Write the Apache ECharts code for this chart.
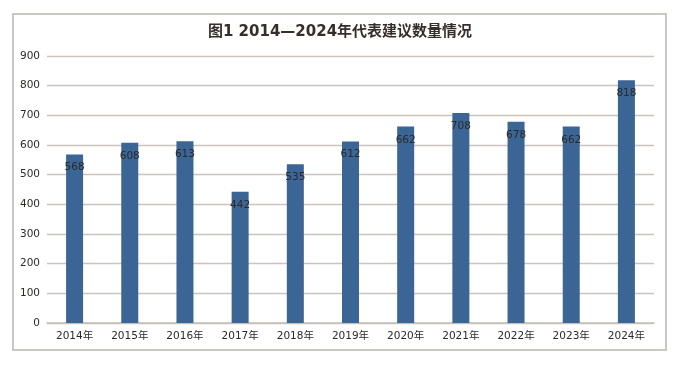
<!DOCTYPE html>
<html><head><meta charset="utf-8">
<script src="https://cdn.jsdelivr.net/npm/echarts@6/dist/echarts.min.js"></script>
<style>html,body{margin:0;padding:0;background:#fff}#c{width:680px;height:371px}</style>
</head><body><div id="c"></div>
<script>
var categories = ['2014年','2015年','2016年','2017年','2018年','2019年','2020年','2021年','2022年','2023年','2024年'];
var values = [568, 608, 613, 442, 535, 612, 662, 708, 678, 662, 818];
var titleText = '图1 2014—2024年代表建议数量情况';
var font = "'DejaVu Sans','Noto Sans CJK SC',sans-serif";
var chart = echarts.init(document.getElementById('c'));
chart.setOption({
  backgroundColor: '#fff',
  animation: false,
  title: {
    text: titleText, left: 'center', top: 20,
    textStyle: {fontFamily: font, fontSize: 15, fontWeight: 'bold', color: '#362e2c'}
  },
  graphic: [{
    type: 'rect', shape: {x: 13, y: 14, width: 653, height: 336},
    style: {fill: 'none', stroke: '#c9c7c4', lineWidth: 2}, silent: true
  }],
  grid: {left: 47, right: 26, top: 56, bottom: 48},
  xAxis: {
    type: 'category', data: categories,
    axisLine: {lineStyle: {color: '#c4beb8', width: 1.5}},
    axisTick: {show: false},
    axisLabel: {color: '#2e2a28', fontSize: 10.5, fontFamily: font, margin: 8}
  },
  yAxis: {
    type: 'value', min: 0, max: 900, interval: 100,
    axisLine: {show: false}, axisTick: {show: false},
    splitLine: {lineStyle: {color: '#cbc4bd', width: 1.3}},
    axisLabel: {color: '#2e2a28', fontSize: 10.5, fontFamily: font, margin: 7}
  },
  series: [{
    type: 'bar', data: values, barWidth: 17,
    itemStyle: {color: '#3b6595'},
    label: {show: true, position: 'insideTop', distance: 8, color: '#2a2a2a', fontSize: 10.5, fontFamily: font}
  }]
});
</script></body></html>
